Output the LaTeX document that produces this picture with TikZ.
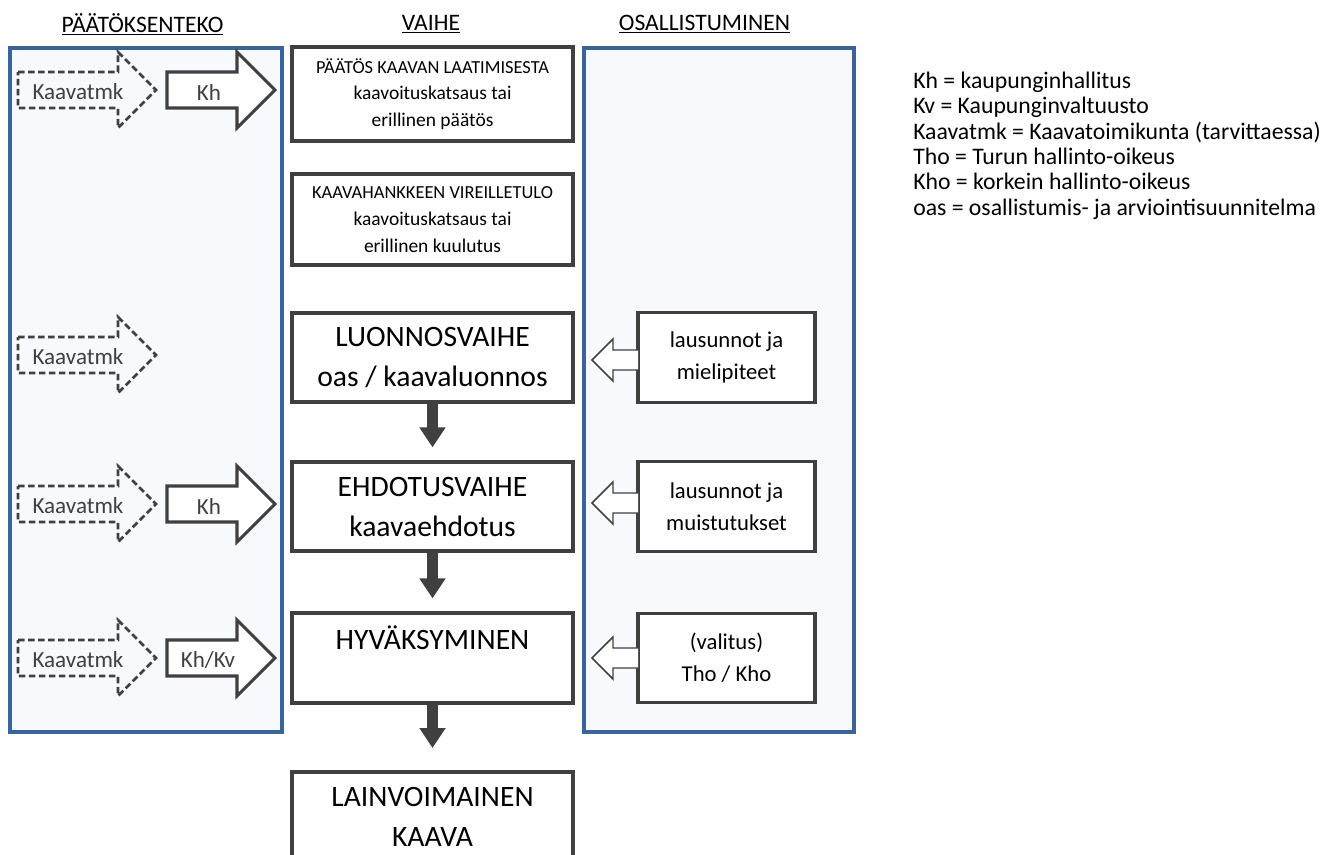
\documentclass[tikz,border=0pt]{standalone}
\usepackage{fontspec}
\setmainfont{Carlito}
\usepackage{xcolor}
\usepackage{tikz}
\usetikzlibrary{arrows.meta, positioning}

\definecolor{boxgray}{HTML}{404040}
\definecolor{panelblue}{HTML}{3A6498}
\definecolor{panelfill}{HTML}{F8F9FC}

%Block arrow to the right: style, tail x, head x, tip x, centre y
\newcommand{\rblock}[5]{\draw[#1] (#2,#5-18) -- (#3,#5-18) -- (#3,#5-38) -- (#4,#5) -- (#3,#5+38) -- (#3,#5+18) -- (#2,#5+18) -- cycle;}
%Block arrow to the left: tip x, head x, tail x, centre y
\newcommand{\lblock}[4]{\draw[hollowblock] (#3,#4-10) -- (#2,#4-10) -- (#2,#4-21) -- (#1,#4) -- (#2,#4+21) -- (#2,#4+10) -- (#3,#4+10);}

\begin{document}
\begin{tikzpicture}[x=0.75pt, y=-0.75pt]
            %Styles for the block arrows
            \tikzset{dashblock/.style={draw=boxgray, line width=1.9pt, dash pattern=on 5pt off 2.5pt},
            solidblock/.style={draw=boxgray, line width=2.3pt, fill=white},
            hollowblock/.style={draw=boxgray, line width=1.1pt, fill=white}}

            %Box styles
            \tikzstyle{panel} = [draw=panelblue, line width=2.7pt, fill=panelfill, minimum width=204pt, minimum height=513pt]
            \tikzstyle{stage} = [draw=boxgray, line width=2.4pt, fill=white, minimum width=210.75pt, align=center, inner sep=0pt]
            \tikzstyle{voice} = [draw=boxgray, line width=2.4pt, fill=white, minimum width=132.75pt, minimum height=67pt, align=center, inner sep=0pt, font=\fontsize{17}{24}\selectfont]
            \tikzstyle{head} = [font=\fontsize{17.7}{20}\selectfont, inner sep=0pt]
            \tikzstyle{tag} = [text=boxgray, font=\fontsize{17.3}{20}\selectfont, inner sep=0pt]
            \tikzstyle{flow} = [draw=boxgray, line width=8.25pt, -{Triangle[width=18.75pt, length=15pt]}, shorten >=11pt]

            \fill[white] (0,0) rectangle (1334,854);
            \useasboundingbox (0,0) rectangle (1334,854);

            %Panels and headings
            \node[panel] (decision) at (146,390) {};
            \node[panel, minimum width=202.5pt] (participation) at (719,390) {};
            \node[head] (hdecision) at (142.5,24) {\underline{PÄÄTÖKSENTEKO}};
            \node[head] (hstage) at (431,24) {\underline{VAIHE}};
            \node[head] (hparticipation) at (704.5,24) {\underline{OSALLISTUMINEN}};

            %Arrows between the stages
            \coordinate (approvaltop) at (432.5,613);
            \draw[flow] (432.5,402) -- (432.5,462);
            \draw[flow] (432.5,551) -- (approvaltop);
            \draw[flow, shorten >=18pt] (approvaltop |- 0,703) -- (432.5,772);

            %Stages
            \node[stage, minimum height=70.5pt, font=\fontsize{14.6}{20}\selectfont] (start) at (432.5,94) {{\fontsize{13.8}{20}\selectfont PÄÄTÖS KAAVAN LAATIMISESTA}\\kaavoituskatsaus tai\\erillinen päätös};
            \node[stage, minimum height=68.25pt, font=\fontsize{14.6}{20}\selectfont] (pending) at (432.5,219.5) {{\fontsize{13.8}{20}\selectfont KAAVAHANKKEEN VIREILLETULO}\\kaavoituskatsaus tai\\erillinen kuulutus};
            \node[stage, minimum height=66.75pt, font=\fontsize{22.2}{30}\selectfont] (sketch) at (432.5,357.5) {LUONNOSVAIHE\\oas / kaavaluonnos};
            \node[stage, minimum height=66.75pt, font=\fontsize{22.2}{30}\selectfont] (proposal) at (432.5,506.5) {EHDOTUSVAIHE\\kaavaehdotus};
            \node[stage, minimum height=67.5pt, font=\fontsize{22.2}{30}\selectfont] (approval) at (432.5,658) {HYVÄKSYMINEN\\~};
            \node[stage, minimum height=67.5pt, font=\fontsize{22.2}{30}\selectfont] (valid) at (432.5,817) {LAINVOIMAINEN\\KAAVA};

            %Decision arrows
            \rblock{dashblock}{18}{118}{156}{90}
            \rblock{solidblock}{167}{237}{275}{90}
            \rblock{dashblock}{18}{118}{156}{355}
            \rblock{dashblock}{18}{118}{156}{504}
            \rblock{solidblock}{167}{237}{275}{504}
            \rblock{dashblock}{18}{118}{156}{658}
            \rblock{solidblock}{167}{237}{275}{658}
            \node[tag] (tmk1) at (78,92) {Kaavatmk};
            \node[tag] (kh1) at (209,92) {Kh};
            \node[tag] (tmk2) at (78,357) {Kaavatmk};
            \node[tag] (tmk3) at (78,506) {Kaavatmk};
            \node[tag] (kh2) at (209,506) {Kh};
            \node[tag] (tmk4) at (78,660) {Kaavatmk};
            \node[tag] (khkv) at (208,660) {Kh/Kv};

            %Participation
            \node[voice] (opinions) at (726.5,357.5) {lausunnot ja\\mielipiteet};
            \node[voice] (reminders) at (726.5,506.5) {lausunnot ja\\muistutukset};
            \node[voice] (appeal) at (726.5,658) {(valitus)\\Tho / Kho};
            \lblock{592}{613}{638}{360}
            \lblock{592}{613}{638}{503}
            \lblock{592}{613}{638}{658}

            %Abbreviations
            \node[anchor=west, align=left, inner sep=0pt, font=\fontsize{17.8}{19}\selectfont] (key) at (913,145.5) {Kh = kaupunginhallitus\\Kv = Kaupunginvaltuusto\\Kaavatmk = Kaavatoimikunta (tarvittaessa)\\Tho = Turun hallinto-oikeus\\Kho = korkein hallinto-oikeus\\oas = osallistumis- ja arviointisuunnitelma};
        \end{tikzpicture}
\end{document}
